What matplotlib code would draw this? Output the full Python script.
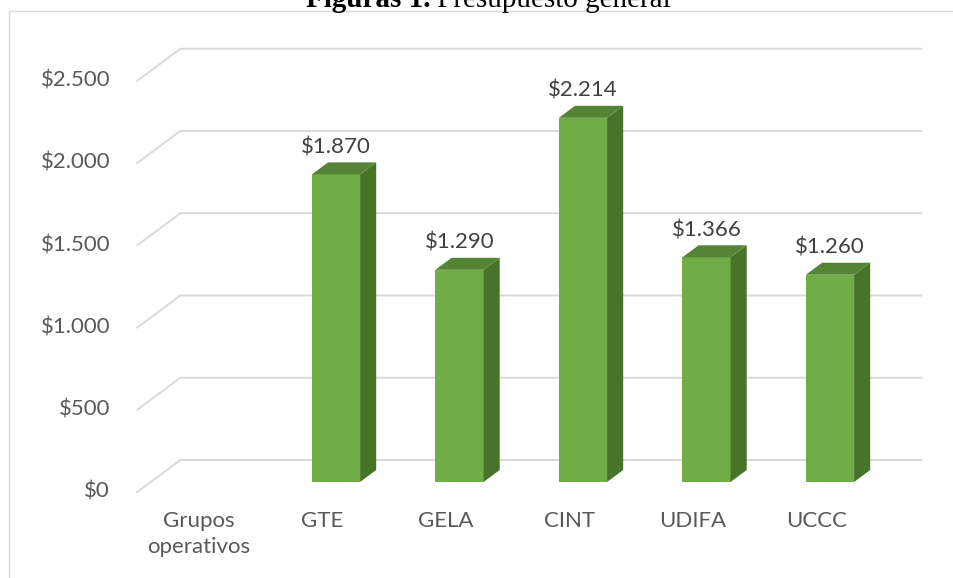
import matplotlib
matplotlib.use("Agg")
import matplotlib.pyplot as plt
from matplotlib.patches import Polygon, Rectangle

# Data
categories = ["Grupos\noperativos", "GTE", "GELA", "CINT", "UDIFA", "UCCC"]
budget = [None, 1870, 1290, 2214, 1366, 1260]
y_ticks = [0, 500, 1000, 1500, 2000, 2500]


def money(v):
    return "$" + f"{v:,}".replace(",", ".")


# 3D look (category units / value units)
bar_w = 0.39
depth_x = 0.348     # full floor depth along x
depth_y = 194.5     # full floor depth along y
bar_front = 0.3125  # bars sit in the middle of the floor depth
bar_back = 0.6875
wall_left = -0.5
wall_right = 5.5

front_col = "#70AD47"
side_col = "#48742A"
top_col = "#558436"
grid_col = "#D9D9D9"
text_col = "#595959"
fs = 16


def at_depth(x, y, d):
    return x + (d - bar_front) * depth_x, y + (d - bar_front) * depth_y


fig = plt.figure(figsize=(9.54, 5.78), dpi=100)
ax = fig.add_axes([0, 0, 1, 1])
ax.set_xlim(-1.7206, 6.004)
ax.set_ylim(-583.6, 2930.1)
ax.axis("off")

# chart border
fig.add_artist(Rectangle((9.5 / 954, -0.1), 1.2, 1.1 - 11.5 / 578,
                         transform=fig.transFigure, fill=False,
                         edgecolor=grid_col, lw=1.0))

# gridlines on the left wall and back wall
for v in y_ticks:
    p0 = at_depth(wall_left, v, 0)
    p1 = at_depth(wall_left, v, 1)
    p2 = at_depth(wall_right, v, 1)
    ax.plot([p0[0], p1[0], p2[0]], [p0[1], p1[1], p2[1]], color=grid_col,
            lw=1.4, zorder=1)
    ax.text(p0[0] - 0.22, p0[1], money(v), ha="right", va="center",
            fontsize=fs, family="Lato", color=text_col)

# bars
sdx = (bar_back - bar_front) * depth_x
sdy = (bar_back - bar_front) * depth_y
for i, v in enumerate(budget):
    if v is None:
        continue
    x0, x1 = i - bar_w / 2, i + bar_w / 2
    ax.add_patch(Polygon([(x0, 0), (x1, 0), (x1, v), (x0, v)],
                         closed=True, facecolor=front_col, lw=0, zorder=3))
    ax.add_patch(Polygon([(x1, 0), (x1 + sdx, sdy), (x1 + sdx, v + sdy), (x1, v)],
                         closed=True, facecolor=side_col, lw=0, zorder=3))
    ax.add_patch(Polygon([(x0, v), (x1, v), (x1 + sdx, v + sdy), (x0 + sdx, v + sdy)],
                         closed=True, facecolor=top_col, lw=0, zorder=3))
    ax.text(i, v + sdy + 90, money(v), ha="center", va="center",
            fontsize=fs, family="Lato", color="#404040", zorder=4)

# category labels at the front edge of the floor
for i, name in enumerate(categories):
    fx, _ = at_depth(i, 0, 0)
    ax.text(fx, -176, name, ha="center", va="top", fontsize=fs, family="Lato",
            color=text_col, linespacing=1.4)

# title (cut at the top like the source)
t1 = fig.text(306 / 954, 1 - 7 / 578, "Figuras 1.", family="Liberation Serif",
              fontweight="bold", fontsize=21, va="baseline", color="black")
fig.canvas.draw()
bb = t1.get_window_extent()
fig.text(bb.x1 / 954, 1 - 7 / 578, " Presupuesto general", family="Liberation Serif",
         fontsize=21, va="baseline", color="black")

fig.savefig("out.png", dpi=100)
